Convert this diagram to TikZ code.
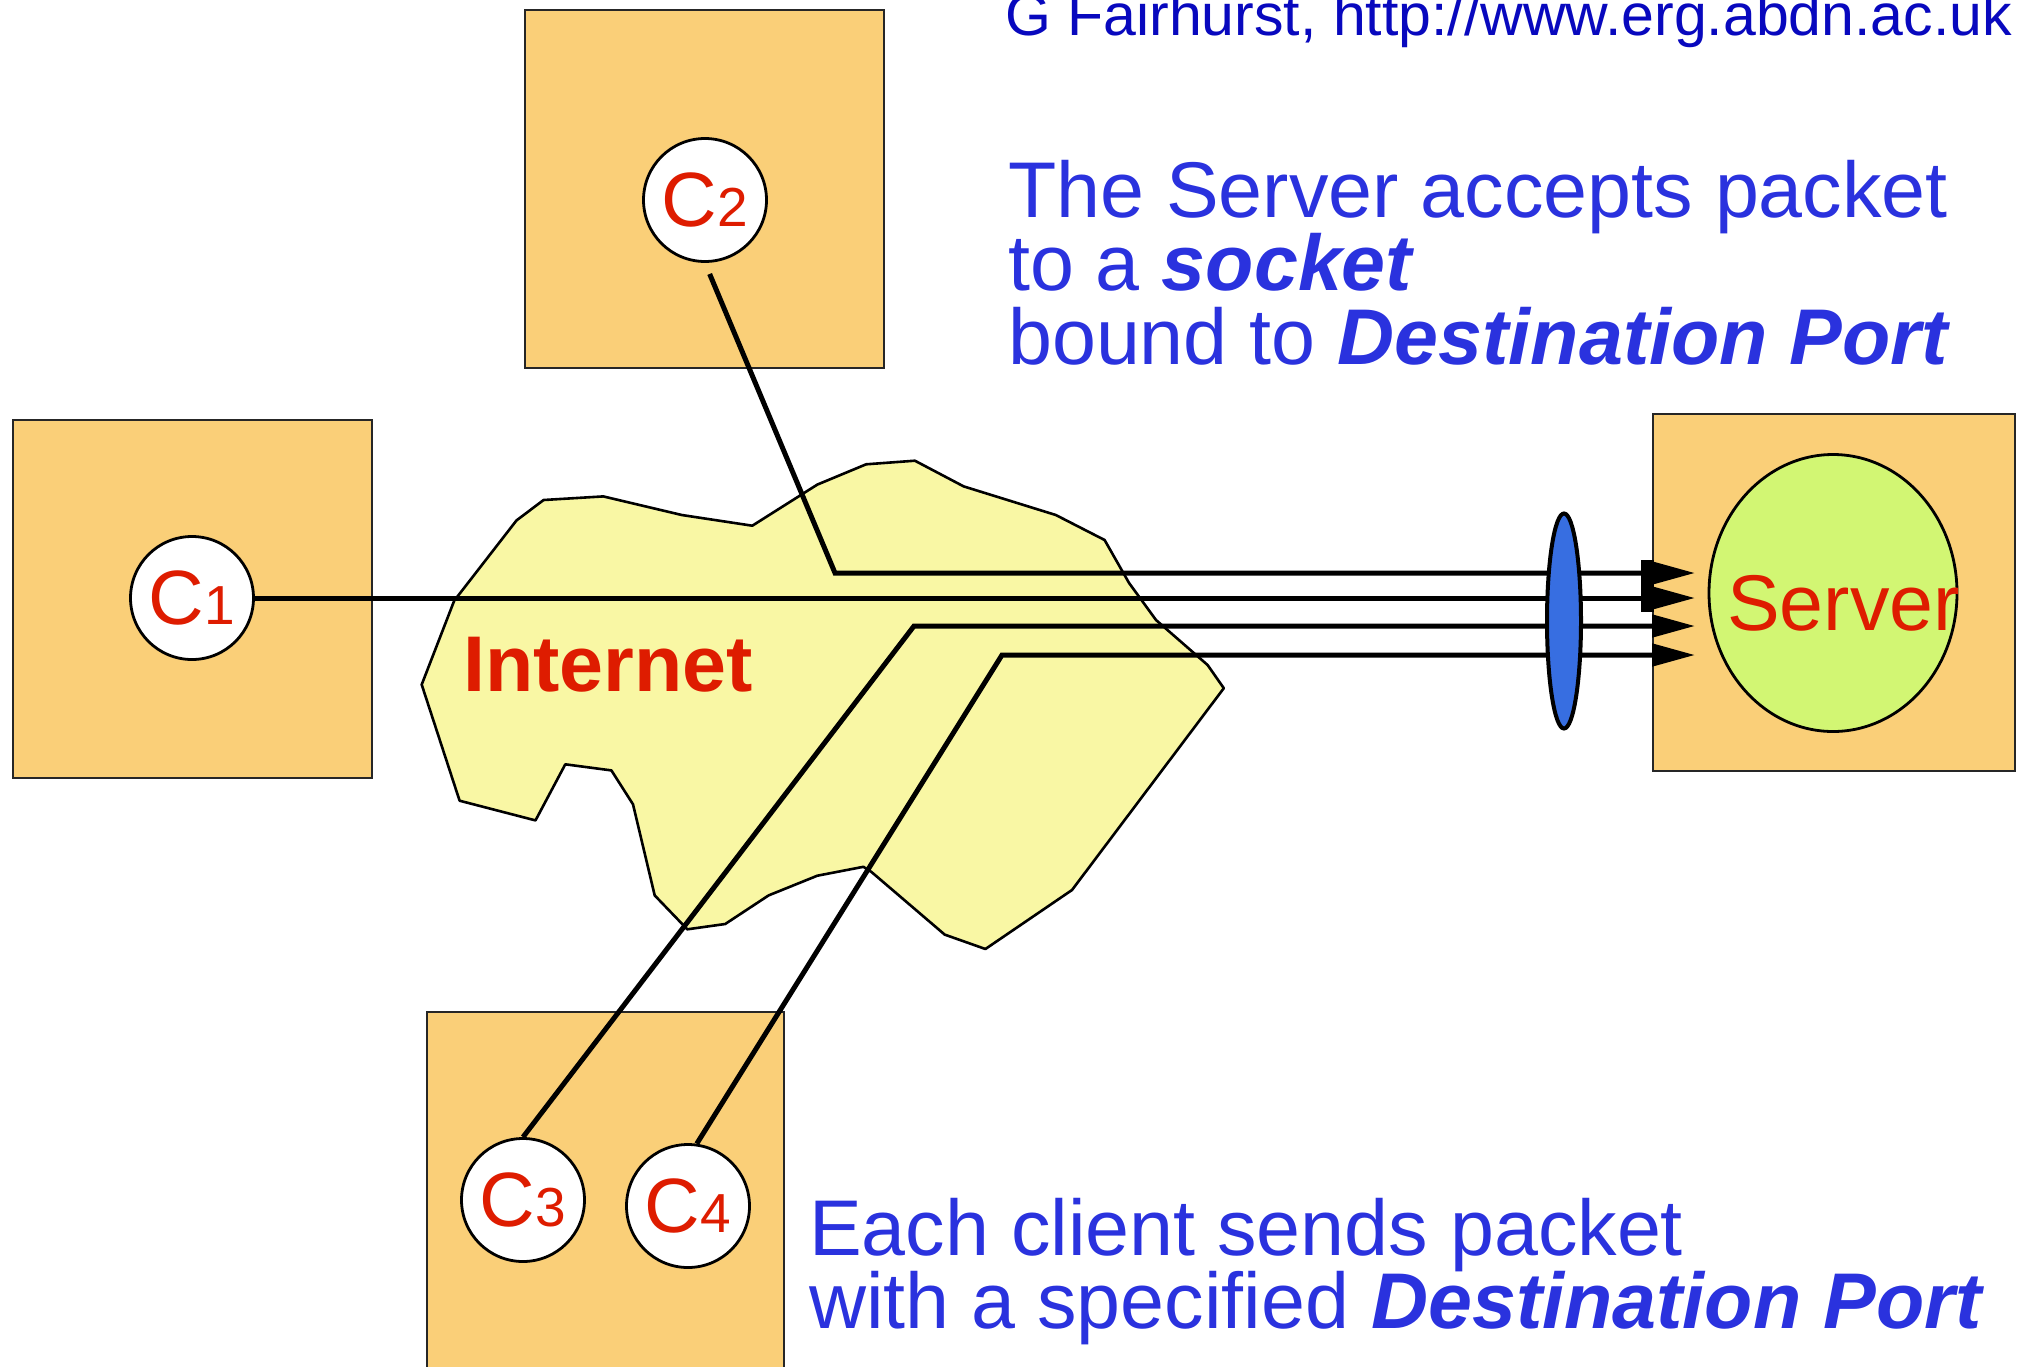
\documentclass[tikz,border=0pt]{standalone}
\usepackage{fontspec}
\setmainfont{Liberation Sans}
\usetikzlibrary{arrows.meta,shapes.geometric}

\definecolor{hostfill}{RGB}{250,207,120}
\definecolor{cloudfill}{RGB}{249,247,164}
\definecolor{srvfill}{RGB}{210,246,115}
\definecolor{portblue}{RGB}{55,110,225}
\definecolor{labelred}{RGB}{222,28,0}
\definecolor{noteblue}{RGB}{42,50,222}
\definecolor{creditblue}{RGB}{8,8,190}

\newcommand\bigtext{\fontsize{79}{74}\selectfont}
\newcommand\clientlabel[1]{{\fontsize{77}{77}\selectfont C}{\fontsize{55}{55}\selectfont #1}}

\begin{document}
\begin{tikzpicture}[x=1pt,y=-1pt,
  host/.style={draw=black!85, line width=2.8pt, fill=hostfill},
  client/.style={circle, draw=black, line width=2.8pt, fill=white,
    minimum size=123pt, inner sep=0pt, text=labelred},
  conn/.style={line width=5pt, line join=miter},
  flow/.style={conn, -{Triangle[length=43pt,width=22pt]}},
  note/.style={anchor=base west, inner sep=0pt, text=noteblue, font=\bigtext},
]
\useasboundingbox (0,0) rectangle (2024,1366);

% host machines
\path[host] (13,420) rectangle (372,778);
\path[host] (525,10) rectangle (884,368);
\path[host] (427,1012) rectangle (784,1400);
\path[host] (1653,414) rectangle (2015,771);

% the Internet cloud
\draw[line width=2.6pt, fill=cloudfill, line join=round]
  (516.5,520.4) -- (543.6,500) -- (603.3,496.4) -- (681.8,515) -- (752.3,525.7)
  -- (817.3,484.6) -- (866.1,464.3) -- (914.9,460.7) -- (963.7,486.4)
  -- (1055.8,515) -- (1104.6,540) -- (1129,582.9) -- (1156,620)
  -- (1207.6,665) -- (1223.8,688.2) -- (1072,890) -- (985.4,949)
  -- (944.7,934.6) -- (871.5,872) -- (863.4,866.8) -- (817.3,875.7)
  -- (768.6,895.4) -- (725.2,924) -- (687.3,929.3) -- (654.7,895.4)
  -- (633,804.3) -- (611.4,770.4) -- (565.3,764.3) -- (535.5,820.4)
  -- (459.6,800.7) -- (421.7,684.6) -- (454.2,600.7) -- cycle;
\node[anchor=base west, inner sep=0pt, text=labelred, font=\bigtext\bfseries]
  (inet) at (463,691) {Internet};

% server process
\node[ellipse, draw=black, line width=2.8pt, fill=srvfill,
  minimum width=248pt, minimum height=277pt, inner sep=0pt] (srv) at (1833,593) {};
\node[anchor=base west, inner sep=0pt, text=labelred, font=\bigtext]
  (srvlabel) at (1727,630) {Server};

% clients
\node[client] (C1) at (192,598) {\clientlabel{1}};
\node[client] (C2) at (705,200) {\clientlabel{2}};
\node[client] (C3) at (523,1200) {\clientlabel{3}};
\node[client] (C4) at (688,1206) {\clientlabel{4}};

% packet paths towards the destination port
\coordinate (t1) at (1695,573);
\coordinate (t2) at (1695,598);
\coordinate (t3) at (1695,626);
\coordinate (t4) at (1695,655);
\coordinate (k2) at (835,573);
\coordinate (k3) at (914,626);
\coordinate (k4) at (1002,655);

\draw[flow, shorten <=12pt] (C2.south) -- (k2) -- (t1);
\draw[flow] (C1.east) -- (t2);
\draw[flow] (C3.north) -- (k3) -- (t3);
\draw[flow] (C4.82) -- (k4) -- (t4);
\fill (1641,560) rectangle (1654,612);

% the destination port
\node[ellipse, draw=black, line width=4pt, fill=portblue,
  minimum width=34pt, minimum height=215pt, inner sep=0pt] (port) at (1564,621) {};

% notes
\node[anchor=base west, inner sep=0pt, text=creditblue, font=\fontsize{59}{59}\selectfont]
  (credit) at (1005,35) {G Fairhurst, http://www.erg.abdn.ac.uk};
\node[note] (n1) at (1008,217) {The Server accepts packet};
\node[note] (n2) at (1008,290) {to a \textbf{\textit{socket}}};
\node[note] (n3) at (1008,364) {bound to \textbf{\textit{Destination Port}}};
\node[note] (n4) at (809,1255) {Each client sends packet};
\node[note] (n5) at (809,1328) {with a specified \textbf{\textit{Destination Port}}};
\end{tikzpicture}
\end{document}
